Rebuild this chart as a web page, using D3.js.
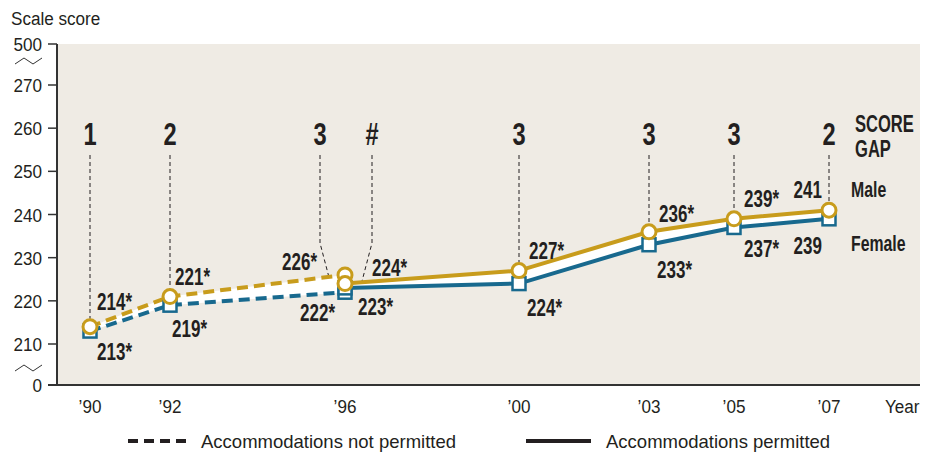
<!DOCTYPE html>
<html>
<head>
<meta charset="utf-8">
<script src="https://cdn.jsdelivr.net/npm/d3@7"></script>
<style>
  body { margin: 0; background: #fff; }
  text { font-family: "Liberation Sans", Arial, sans-serif; fill: #231f20; }
</style>
</head>
<body>
<script>
// chart values
var years = [1990, 1992, 1996, 2000, 2003, 2005, 2007];
var yearLabels = ["’90", "’92", "’96", "’00", "’03", "’05", "’07"];
var maleNotPermitted = [214, 221, 226];
var femaleNotPermitted = [213, 219, 222];
var malePermitted = [224, 227, 236, 239, 241];
var femalePermitted = [223, 224, 233, 237, 239];
var maleNPLabels = ["214*", "221*", "226*"];
var femaleNPLabels = ["213*", "219*", "222*"];
var malePLabels = ["224*", "227*", "236*", "239*", "241"];
var femalePLabels = ["223*", "224*", "233*", "237*", "239"];
var scoreGaps = ["1", "2", "3", "#", "3", "3", "3", "2"];
var yTicks = [0, 210, 220, 230, 240, 250, 260, 270, 500];

var npYears = years.slice(0, 3);
var pYears = years.slice(2);

var W = 930, H = 455;
var gold = "#c89c1c", blue = "#18698e";
var BOLD_SX = 0.74, REG_SX = 0.9;

var svg = d3.select("body").append("svg").attr("width", W).attr("height", H);

// helper: text squeezed horizontally to mimic the condensed face
function txt(x, y, s, size, bold, anchor, sx) {
  return svg.append("text")
     .attr("transform", "translate(" + x + "," + y + ") scale(" + sx + ",1)")
     .attr("text-anchor", anchor || "start")
     .style("font-size", size + "px")
     .style("font-weight", bold ? "bold" : "normal")
     .text(s);
}

// broken axes: polylinear scales
var x = d3.scaleLinear().domain(years).range([90, 170, 345, 519, 649, 734, 829]);
var y = d3.scaleLinear().domain([0, 210, 270, 500]).range([385, 344, 85, 44]);

// plot background
svg.append("rect").attr("x", 57).attr("y", 44).attr("width", 863).attr("height", 341)
   .attr("fill", "#efebe4");

// axes
svg.append("line").attr("x1", 57).attr("x2", 57).attr("y1", 44).attr("y2", 385)
   .attr("stroke", "#333").attr("stroke-width", 2);
svg.append("line").attr("x1", 48).attr("x2", 920).attr("y1", 385).attr("y2", 385)
   .attr("stroke", "#333").attr("stroke-width", 2);

svg.selectAll("line.tick").data(yTicks).enter().append("line")
   .attr("x1", 48).attr("x2", 57)
   .attr("y1", function(d) { return y(d); }).attr("y2", function(d) { return y(d); })
   .attr("stroke", "#333").attr("stroke-width", 1.5);

yTicks.forEach(function(d) { txt(42, y(d) + 7, d, 19, false, "end", REG_SX); });

// axis break marks
[64, 371].forEach(function(by) {
  svg.append("path")
     .attr("d", "M15," + by + " L24," + (by - 6) + " L33," + by + " L42," + (by - 6))
     .attr("fill", "none").attr("stroke", "#333").attr("stroke-width", 1);
});

txt(11, 25, "Scale score", 19, false, "start", REG_SX);

// x labels
years.forEach(function(d, i) { txt(x(d), 413, yearLabels[i], 19, false, "middle", REG_SX); });
txt(885, 413, "Year", 19, false, "start", REG_SX);

// score gap guide lines (1996 has two, bent towards the point)
var gapX = [x(1990), x(1992), 320, 372, x(2000), x(2003), x(2005), x(2007)];
var gapEnd = [
  [x(1990), y(214) - 8], [x(1992), y(221) - 8], [x(1996) - 14, 285], [x(1996) + 16, 285],
  [x(2000), y(227) - 8], [x(2003), y(236) - 8], [x(2005), y(239) - 8], [x(2007), y(241) - 8]
];
scoreGaps.forEach(function(g, i) {
  var gx = gapX[i];
  var tx = gapEnd[i][0], ty = gapEnd[i][1];
  var d = "M" + gx + ",155 L" + gx + "," + (gx === tx ? ty : 243) + (gx === tx ? "" : " L" + tx + "," + ty);
  svg.append("path").attr("d", d).attr("fill", "none")
     .attr("stroke", "#231f20").attr("stroke-width", 1).attr("stroke-dasharray", "4,3");
  txt(gx, 145, g, 32, true, "middle", BOLD_SX);
});
txt(855, 132, "SCORE", 23, true, "start", 0.72);
txt(855, 157, "GAP", 23, true, "start", 0.72);

// white band between the lines
function band(ys, m, f) {
  var pts = ys.map(function(d, i) { return {yr: d, m: m[i], f: f[i]}; });
  svg.append("path").datum(pts)
     .attr("d", d3.area().x(function(d) { return x(d.yr); })
        .y0(function(d) { return y(d.f); }).y1(function(d) { return y(d.m); }))
     .attr("fill", "#fff");
}
band(npYears, maleNotPermitted, femaleNotPermitted);
band(pYears, malePermitted, femalePermitted);

function series(ys, vals, color, dashed) {
  var line = d3.line().x(function(d, i) { return x(ys[i]); }).y(function(d) { return y(d); });
  svg.append("path").datum(vals).attr("d", line)
     .attr("fill", "none").attr("stroke", color).attr("stroke-width", 4)
     .attr("stroke-dasharray", dashed ? "11,6" : null);
}
series(npYears, femaleNotPermitted, blue, true);
series(pYears, femalePermitted, blue, false);
series(npYears, maleNotPermitted, gold, true);
series(pYears, malePermitted, gold, false);

function squares(ys, vals) {
  svg.selectAll(null).data(vals).enter().append("rect")
     .attr("x", function(d, i) { return x(ys[i]) - 6.5; })
     .attr("y", function(d) { return y(d) - 6.5; })
     .attr("width", 13).attr("height", 13)
     .attr("fill", "#fff").attr("stroke", blue).attr("stroke-width", 2.5);
}
function circles(ys, vals) {
  svg.selectAll(null).data(vals).enter().append("circle")
     .attr("cx", function(d, i) { return x(ys[i]); })
     .attr("cy", function(d) { return y(d); })
     .attr("r", 7).attr("fill", "#fff").attr("stroke", gold).attr("stroke-width", 3);
}
squares(npYears, femaleNotPermitted);
squares(pYears, femalePermitted);
circles(npYears, maleNotPermitted);
circles(pYears, malePermitted);

// value labels: offset [dx, dy, anchor] from the point
var maleNPOff = [[7, -17, "start"], [5, -12, "start"], [-28, -5, "end"]];
var femaleNPOff = [[7, 29, "start"], [2, 32, "start"], [-10, 29, "end"]];
var malePOff = [[27, -8, "start"], [10, -12, "start"], [10, -10, "start"], [10, -12, "start"], [-7, -12, "end"]];
var femalePOff = [[13, 27, "start"], [8, 32, "start"], [8, 33, "start"], [10, 30, "start"], [-7, 35, "end"]];

function labels(ys, vals, texts, off) {
  vals.forEach(function(d, i) {
    txt(x(ys[i]) + off[i][0], y(d) + off[i][1], texts[i], 23, true, off[i][2], BOLD_SX);
  });
}
labels(npYears, maleNotPermitted, maleNPLabels, maleNPOff);
labels(npYears, femaleNotPermitted, femaleNPLabels, femaleNPOff);
labels(pYears, malePermitted, malePLabels, malePOff);
labels(pYears, femalePermitted, femalePLabels, femalePOff);

txt(851, 197, "Male", 22, true, "start", 0.72);
txt(851, 251, "Female", 22, true, "start", 0.72);

// legend
svg.append("line").attr("x1", 128).attr("x2", 188).attr("y1", 441).attr("y2", 441)
   .attr("stroke", "#231f20").attr("stroke-width", 4).attr("stroke-dasharray", "10,6");
txt(201, 448, "Accommodations not permitted", 18.5, false, "start", 1);
svg.append("line").attr("x1", 526).attr("x2", 591).attr("y1", 441).attr("y2", 441)
   .attr("stroke", "#231f20").attr("stroke-width", 4);
txt(606, 448, "Accommodations permitted", 18.5, false, "start", 1);
</script>
</body>
</html>
